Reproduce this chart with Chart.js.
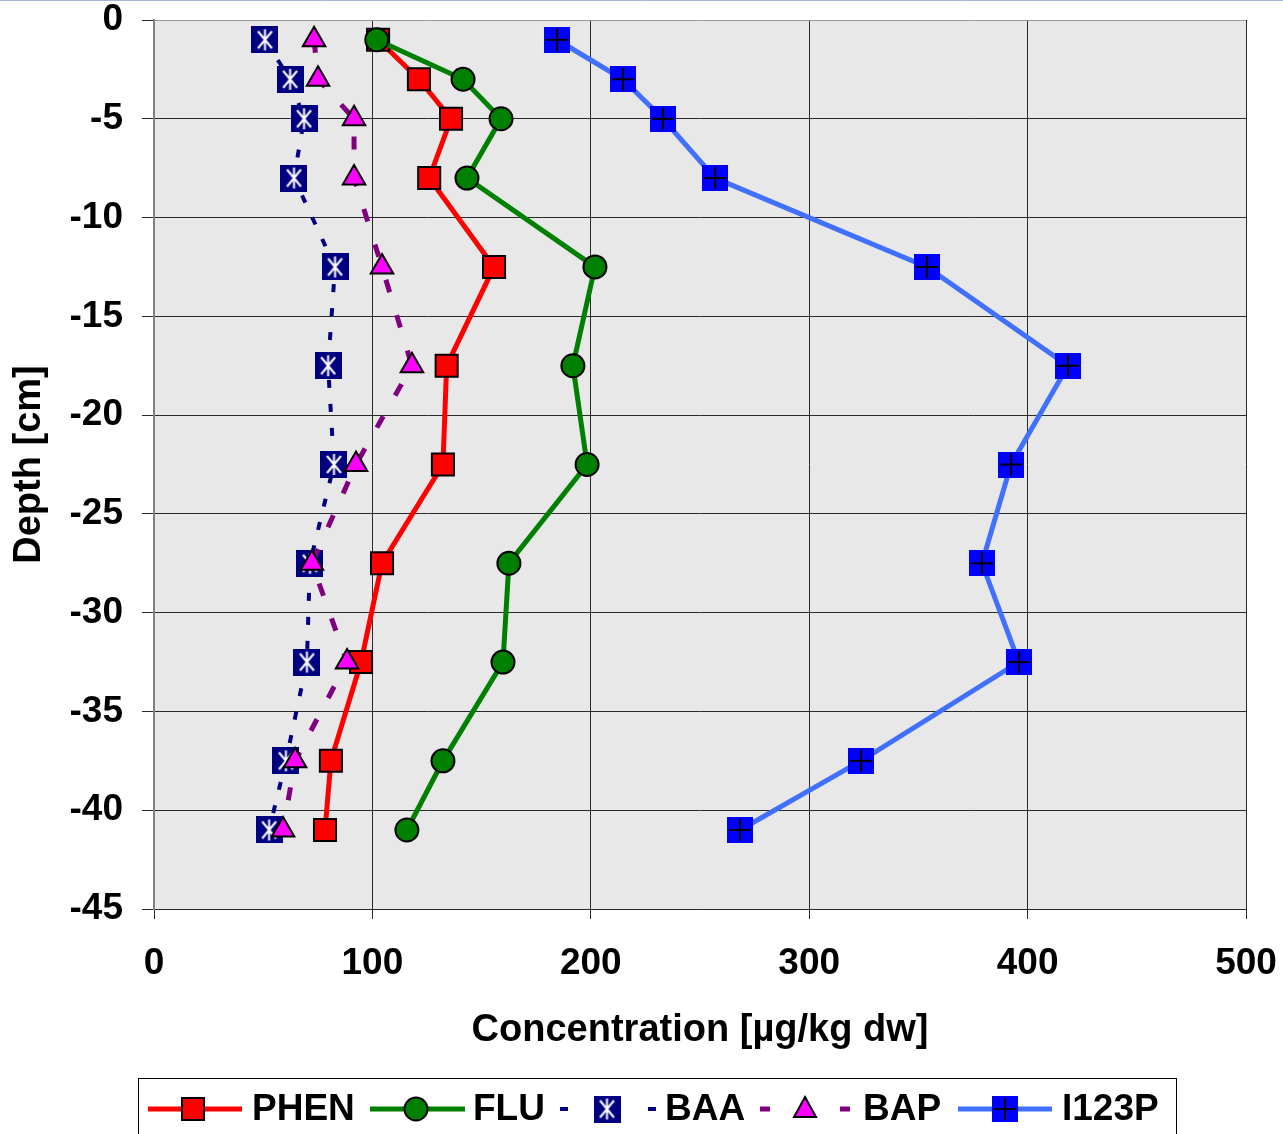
<!DOCTYPE html>
<html><head><meta charset="utf-8">
<script src="https://cdn.jsdelivr.net/npm/chart.js@4.4.0/dist/chart.umd.min.js"></script>
<style>html,body{margin:0;padding:0;background:#fff;overflow:hidden}#wrap{width:1283px;height:1134px;position:relative}</style>
</head><body><div id="wrap"><canvas id="c"></canvas></div>
<script>
const depths = [-1, -3, -5, -8, -12.5, -17.5, -22.5, -27.5, -32.5, -37.5, -41];
const phen  = [102.6, 121.3, 136.0, 126.0, 155.7, 134.0, 132.3, 104.4, 94.8, 81.0, 78.3];
const flu   = [102.0, 141.5, 158.9, 143.3, 201.9, 191.8, 198.3, 162.5, 159.8, 132.3, 115.8];
const baa   = [50.8, 62.3, 68.7, 64.1, 82.9, 79.7, 82.4, 71.4, 70.0, 60.4, 52.7];
const bap   = [73.3, 75.1, 91.6, 91.6, 104.4, 118.1, 92.5, 72.3, 88.4, 64.6, 59.1];
const i123p = [184.5, 214.7, 233.0, 256.9, 353.9, 418.5, 392.4, 379.1, 396.0, 323.7, 268.3];
const seriesNames = ['PHEN', 'FLU', 'BAA', 'BAP', 'I123P'];
const xTickValues = [0, 100, 200, 300, 400, 500];
const yTickValues = [0, -5, -10, -15, -20, -25, -30, -35, -40, -45];
const xTitle = 'Concentration [µg/kg dw]';
const yTitle = 'Depth [cm]';

const FONT = '"Liberation Sans", Arial, sans-serif';

function pts(xs) { return xs.map((x, i) => ({x: x, y: depths[i]})); }

function makeBaaMarker() {
  const c = document.createElement('canvas'); c.width = 27; c.height = 27;
  const g = c.getContext('2d');
  g.fillStyle = '#000080'; g.fillRect(0, 0, 27, 27);
  g.strokeStyle = '#fff'; g.lineWidth = 2;
  g.beginPath();
  g.moveTo(13.5, 3); g.lineTo(13.5, 24);
  g.moveTo(6.5, 5); g.lineTo(20.5, 22);
  g.moveTo(20.5, 5); g.lineTo(6.5, 22);
  g.stroke();
  return c;
}
function makeI123pMarker() {
  const c = document.createElement('canvas'); c.width = 26; c.height = 26;
  const g = c.getContext('2d');
  g.fillStyle = '#0000ff'; g.fillRect(0, 0, 26, 26);
  g.strokeStyle = '#000'; g.lineWidth = 2;
  g.beginPath();
  g.moveTo(13, 2); g.lineTo(13, 24);
  g.moveTo(2, 13); g.lineTo(24, 13);
  g.stroke();
  return c;
}
const baaMarker = makeBaaMarker();
const i123pMarker = makeI123pMarker();

const bgPlugin = {
  id: 'bg',
  beforeDraw(chart) {
    const {ctx, chartArea: a} = chart;
    ctx.save();
    ctx.fillStyle = '#e8e8e8';
    ctx.fillRect(a.left, a.top, a.right - a.left, a.bottom - a.top);
    ctx.strokeStyle = '#9fbad6'; ctx.lineWidth = 1;
    ctx.beginPath(); ctx.moveTo(0, 0.5); ctx.lineTo(chart.width, 0.5); ctx.stroke();
    ctx.restore();
  }
};

const legendPlugin = {
  id: 'customLegend',
  afterDraw(chart) {
    const ctx = chart.ctx;
    ctx.save();
    ctx.strokeStyle = '#000'; ctx.lineWidth = 1;
    ctx.strokeRect(138.5, 1078.5, 1038, 70);
    const y = 1109;
    const items = [
      {x0: 148, x1: 242, mx: 193, tx: 252, color: '#ff0000', w: 5, dash: [], marker: 'rect'},
      {x0: 370, x1: 465, mx: 416, tx: 473, color: '#008000', w: 5, dash: [], marker: 'circle'},
      {x0: 560, x1: 657, mx: 607, tx: 665, color: '#000080', w: 4, dash: [8, 36], marker: 'baa'},
      {x0: 760, x1: 857, mx: 805, tx: 863, color: '#800080', w: 5, dash: [10, 30], marker: 'tri'},
      {x0: 958, x1: 1052, mx: 1005, tx: 1062, color: '#4170ff', w: 5, dash: [], marker: 'i123p'}
    ];
    items.forEach((it, i) => {
      ctx.strokeStyle = it.color; ctx.lineWidth = it.w; ctx.setLineDash(it.dash);
      ctx.beginPath(); ctx.moveTo(it.x0, y); ctx.lineTo(it.x1, y); ctx.stroke();
      ctx.setLineDash([]);
      ctx.lineWidth = 2; ctx.strokeStyle = '#000';
      if (it.marker === 'rect') {
        ctx.fillStyle = '#ff0000'; ctx.fillRect(it.mx - 11, y - 11, 22, 22); ctx.strokeRect(it.mx - 11, y - 11, 22, 22);
      } else if (it.marker === 'circle') {
        ctx.fillStyle = '#008000'; ctx.beginPath(); ctx.arc(it.mx, y, 11.5, 0, Math.PI * 2); ctx.fill(); ctx.stroke();
      } else if (it.marker === 'baa') {
        ctx.drawImage(baaMarker, it.mx - 13.5, y - 13.5);
      } else if (it.marker === 'tri') {
        ctx.fillStyle = '#ff00ff'; ctx.beginPath();
        ctx.moveTo(it.mx, y - 12); ctx.lineTo(it.mx + 11, y + 8); ctx.lineTo(it.mx - 11, y + 8); ctx.closePath();
        ctx.fill(); ctx.stroke();
      } else {
        ctx.drawImage(i123pMarker, it.mx - 13, y - 13);
      }
      ctx.fillStyle = '#000'; ctx.font = 'bold 37px ' + FONT;
      ctx.textBaseline = 'middle'; ctx.textAlign = 'left';
      ctx.fillText(seriesNames[i], it.tx, y + 1);
    });
    ctx.restore();
  }
};

const gridColorX = c => (c.tick && c.tick.value === 0) ? '#888' : '#2a2a2a';
const gridColorY = c => (c.tick && c.tick.value === 0) ? '#999' : '#2a2a2a';

new Chart(document.getElementById('c'), {
  type: 'scatter',
  data: {
    datasets: [
      {label: seriesNames[0], data: pts(phen), showLine: true, borderColor: '#ff0000', borderWidth: 5,
       pointStyle: 'rect', pointRadius: 15.6, pointBackgroundColor: '#ff0000', pointBorderColor: '#000', pointBorderWidth: 2, order: 5},
      {label: seriesNames[1], data: pts(flu), showLine: true, borderColor: '#008000', borderWidth: 5,
       pointStyle: 'circle', pointRadius: 11.5, pointBackgroundColor: '#008000', pointBorderColor: '#000', pointBorderWidth: 2, order: 4},
      {label: seriesNames[2], data: pts(baa), showLine: true, borderColor: '#000080', borderWidth: 4, borderDash: [8, 16],
       pointStyle: baaMarker, pointRadius: 13, order: 3},
      {label: seriesNames[3], data: pts(bap), showLine: true, borderColor: '#800080', borderWidth: 5, borderDash: [13, 24],
       pointStyle: 'triangle', pointRadius: 13, pointBackgroundColor: '#ff00ff', pointBorderColor: '#000', pointBorderWidth: 2, order: 2},
      {label: seriesNames[4], data: pts(i123p), showLine: true, borderColor: '#4170ff', borderWidth: 5,
       pointStyle: i123pMarker, pointRadius: 13, order: 1}
    ]
  },
  options: {
    responsive: true, maintainAspectRatio: false, animation: false,
    layout: {padding: {top: 20, right: 37, left: 0, bottom: 0}},
    plugins: {legend: {display: false}, tooltip: {enabled: false}},
    scales: {
      x: {
        type: 'linear', min: 0, max: 500,
        afterFit: s => { s.height = 225; s.paddingLeft = 0; s.paddingRight = 0; },
        afterBuildTicks: s => { s.ticks = xTickValues.map(v => ({value: v})); },
        ticks: {color: '#000', font: {family: FONT, size: 37, weight: 'bold', lineHeight: 1.2}, padding: 23, maxRotation: 0, autoSkip: false},
        grid: {color: gridColorX, lineWidth: 1, tickLength: 10, tickColor: '#2a2a2a'},
        border: {color: '#2a2a2a', width: 1},
        title: {display: true, text: xTitle, color: '#000', font: {family: FONT, size: 38, weight: 'bold', lineHeight: 1.2}, padding: {top: 0, bottom: 81}}
      },
      y: {
        type: 'linear', min: -45, max: 0,
        afterFit: s => { s.width = 154; s.paddingTop = 0; s.paddingBottom = 0; },
        afterBuildTicks: s => { s.ticks = yTickValues.map(v => ({value: v})); },
        ticks: {color: '#000', font: {family: FONT, size: 37, weight: 'bold', lineHeight: 1.0}, padding: 19, autoSkip: false},
        grid: {color: gridColorY, lineWidth: 1, tickLength: 12, tickColor: '#2a2a2a'},
        border: {color: '#808080', width: 2},
        title: {display: true, text: yTitle, color: '#000', font: {family: FONT, size: 38, weight: 'bold', lineHeight: 1.2}, padding: {top: 7, bottom: 0}}
      }
    }
  },
  plugins: [bgPlugin, legendPlugin]
});
</script>
</body></html>
